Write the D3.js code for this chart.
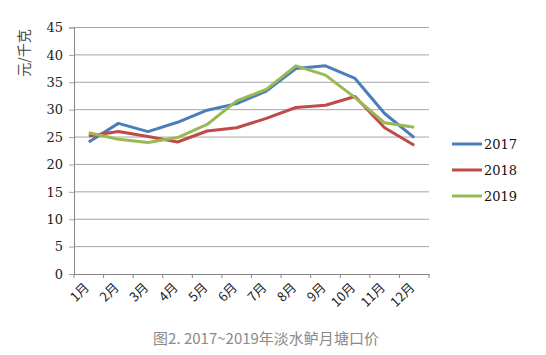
<!DOCTYPE html>
<html><head><meta charset="utf-8">
<script src="https://cdn.jsdelivr.net/npm/d3@7"></script>
<style>body{margin:0;background:#fff;}svg{display:block;}</style>
</head><body>
<script>
const months = ["1月","2月","3月","4月","5月","6月","7月","8月","9月","10月","11月","12月"];
const v2017 = [24.1,27.5,26.0,27.7,29.9,31.1,33.4,37.5,38.0,35.7,29.3,24.9];
const v2018 = [25.2,26.0,25.1,24.1,26.1,26.7,28.4,30.4,30.8,32.4,26.7,23.5];
const v2019 = [25.8,24.6,24.0,24.9,27.3,31.6,33.7,38.0,36.3,32.2,27.6,26.8];
const seriesNames = ["2017","2018","2019"];
const colors = ["#4a7ebb","#be4b48","#98b954"];
const yTicks = [0,5,10,15,20,25,30,35,40,45];

const W=546,H=355;
const svg=d3.select("body").append("svg").attr("width",W).attr("height",H);
const x=d3.scaleBand().domain(months).range([74,429]);
const y=d3.scaleLinear().domain([0,45]).range([274,27.5]);

// gridlines
svg.append("g").selectAll("line").data(yTicks.filter(d=>d>0)).join("line")
  .attr("x1",74).attr("x2",429).attr("y1",d=>y(d)).attr("y2",d=>y(d))
  .attr("stroke","#a6a6a6").attr("stroke-width",1);

// y axis
const ya=svg.append("g").attr("transform","translate(74,0)")
  .call(d3.axisLeft(y).tickValues(yTicks).tickSize(5).tickPadding(6));
ya.select(".domain").attr("stroke","#868686");
ya.selectAll(".tick line").attr("stroke","#a6a6a6");
ya.selectAll("text").attr("font-family","'DejaVu Serif', serif").attr("font-size",13).attr("fill","#222");

// x axis
const xa=svg.append("g").attr("transform","translate(0,274)")
  .call(d3.axisBottom(x).tickSize(0).tickFormat(""));
xa.select(".domain").attr("stroke","#868686");
const bounds=months.map(m=>x(m)).concat([429]);
svg.append("g").selectAll("line").data(bounds).join("line")
  .attr("x1",d=>d).attr("x2",d=>d).attr("y1",274).attr("y2",278)
  .attr("stroke","#868686");
svg.append("g").selectAll("text").data(months).join("text")
  .attr("transform",d=>`translate(${x(d)+x.bandwidth()/2-2},${285}) rotate(-45)`)
  .attr("text-anchor","end").attr("dy","0.35em")
  .attr("font-family","'Noto Sans CJK SC', sans-serif").attr("font-size",13).attr("fill","#222")
  .text(d=>d);

// lines
const data=[v2017,v2018,v2019];
const line=d3.line().x((d,i)=>x(months[i])+x.bandwidth()/2).y(d=>y(d));
svg.append("g").selectAll("path").data(data).join("path")
  .attr("d",line).attr("fill","none").attr("stroke",(d,i)=>colors[i])
  .attr("stroke-width",3).attr("stroke-linejoin","round");

// y label
svg.append("text").attr("transform","translate(29,53) rotate(-90)")
  .attr("text-anchor","middle")
  .attr("font-family","'Noto Sans CJK SC', sans-serif").attr("font-size",14).attr("fill","#444")
  .text("元/千克");

// legend
const lg=svg.append("g").selectAll("g").data(seriesNames).join("g")
  .attr("transform",(d,i)=>`translate(452,${144+i*26})`);
lg.append("line").attr("x1",0).attr("x2",30).attr("stroke",(d,i)=>colors[i]).attr("stroke-width",3);
lg.append("text").attr("x",32).attr("dy","0.35em")
  .attr("font-family","'DejaVu Serif', serif").attr("font-size",13).attr("fill","#111").text(d=>d);

// caption
svg.append("text").attr("x",266).attr("y",344).attr("text-anchor","middle")
  .attr("font-family","'Noto Sans CJK SC', sans-serif").attr("font-size",15).attr("fill","#8a8a8a")
  .text("图2. 2017~2019年淡水鲈月塘口价");
</script>
</body></html>
